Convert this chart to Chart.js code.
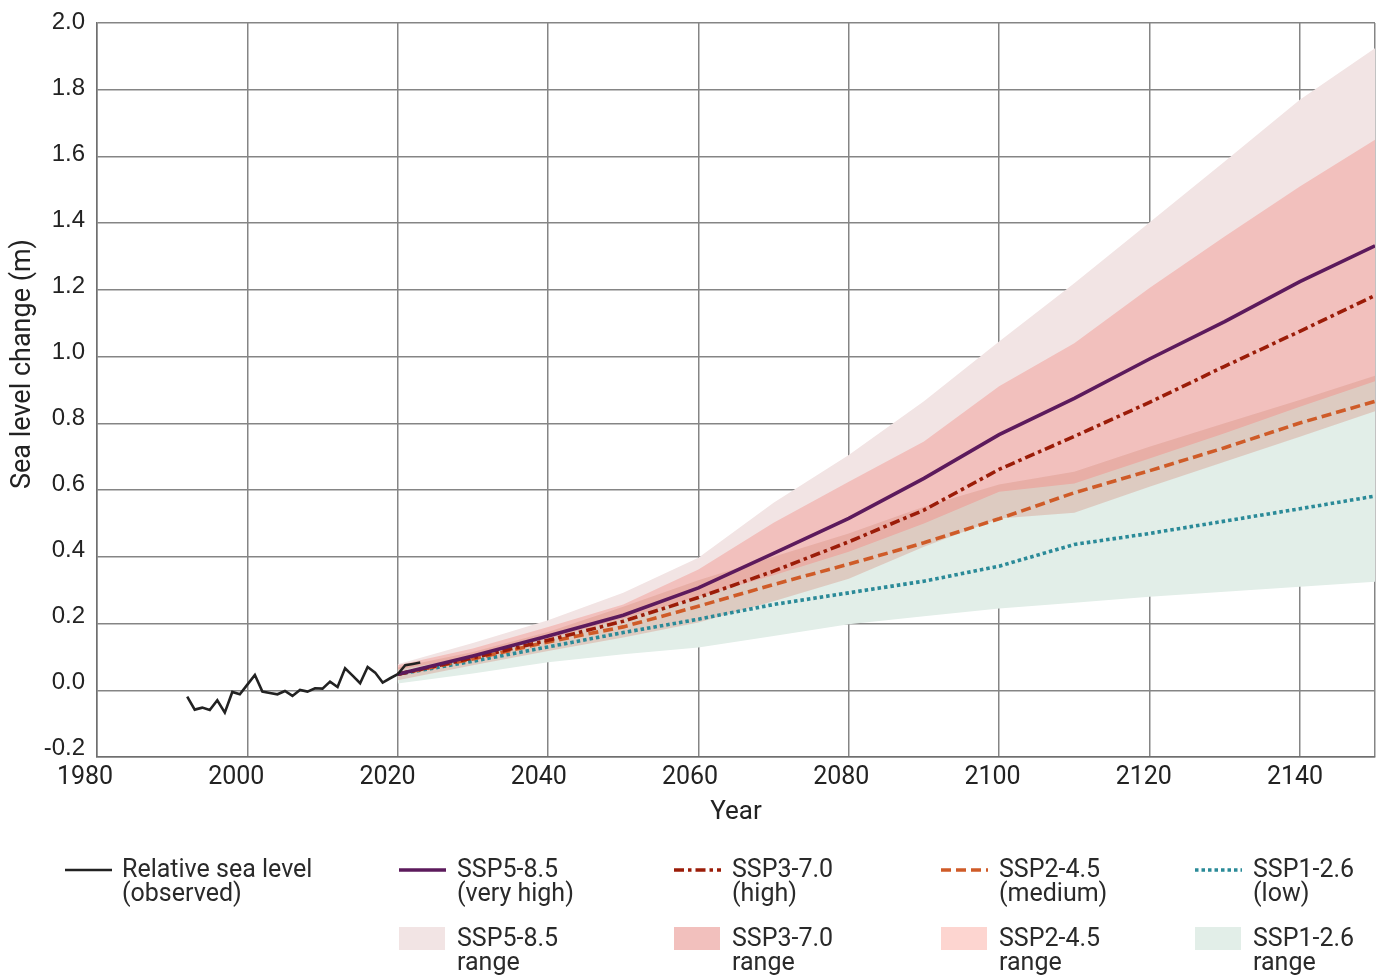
<!DOCTYPE html>
<html>
<head>
<meta charset="utf-8">
<title>Sea level change projections</title>
<script src="https://cdn.jsdelivr.net/npm/chart.js@4.4.1/dist/chart.umd.min.js"></script>
<style>
  html, body { margin: 0; padding: 0; background: #fff; }
  #wrap { position: relative; width: 1384px; height: 975px; overflow: hidden; }
  #chart { position: absolute; left: 0; top: 0; }
  .lg-text {
    position: absolute;
    font-family: Roboto, "Liberation Sans", sans-serif;
    font-size: 25px;
    line-height: 24px;
    color: #2a2a2a;
    white-space: nowrap;
  }
  .lg-sw { position: absolute; }
</style>
</head>
<body>
<div id="wrap">
  <canvas id="chart" width="1384" height="975"></canvas>
  <div id="legend"></div>
</div>
<script>
// ---- Observed relative sea level (m) ----
const obsYears = [1992, 1993, 1994, 1995, 1996, 1997, 1998, 1999, 2000, 2001,
                  2002, 2003, 2004, 2005, 2006, 2007, 2008, 2009, 2010, 2011,
                  2012, 2013, 2014, 2015, 2016, 2017, 2018, 2019, 2020, 2021,
                  2022, 2023];
const obsLevel = [-0.019, -0.058, -0.052, -0.059, -0.030, -0.067, -0.005, -0.012, 0.017, 0.046,
                  -0.004, -0.008, -0.012, -0.002, -0.017, 0.001, -0.004, 0.006, 0.005, 0.026,
                  0.010, 0.066, 0.044, 0.021, 0.070, 0.053, 0.023, 0.036, 0.048, 0.075,
                  0.079, 0.083];

// ---- Projections (m), one value per decade ----
const projYears = [2020, 2030, 2040, 2050, 2060, 2070, 2080, 2090, 2100, 2110, 2120, 2130, 2140, 2150];

const ssp585Mid  = [0.048, 0.103, 0.163, 0.225, 0.307, 0.410, 0.515, 0.635, 0.766, 0.875, 0.993, 1.105, 1.225, 1.332];
const ssp370Mid  = [0.048, 0.097, 0.150, 0.207, 0.278, 0.357, 0.445, 0.540, 0.662, 0.761, 0.863, 0.971, 1.076, 1.183];
const ssp245Mid  = [0.048, 0.094, 0.145, 0.190, 0.252, 0.317, 0.378, 0.442, 0.514, 0.592, 0.658, 0.727, 0.801, 0.866];
const ssp126Mid  = [0.048, 0.087, 0.130, 0.173, 0.213, 0.257, 0.292, 0.327, 0.372, 0.437, 0.470, 0.507, 0.544, 0.582];

const ssp585High = [0.078, 0.142, 0.210, 0.292, 0.397, 0.562, 0.705, 0.866, 1.045, 1.220, 1.402, 1.585, 1.770, 1.924];
const ssp585Low  = [0.025, 0.060, 0.100, 0.145, 0.190, 0.250, 0.310, 0.380, 0.450, 0.490, 0.550, 0.630, 0.750, 0.880];
const ssp370High = [0.075, 0.125, 0.190, 0.257, 0.362, 0.502, 0.625, 0.746, 0.911, 1.040, 1.206, 1.360, 1.510, 1.650];
const ssp370Low  = [0.028, 0.065, 0.105, 0.150, 0.200, 0.260, 0.320, 0.390, 0.460, 0.500, 0.560, 0.640, 0.760, 0.900];
const ssp245High = [0.068, 0.115, 0.175, 0.250, 0.330, 0.400, 0.470, 0.550, 0.617, 0.655, 0.730, 0.800, 0.870, 0.943];
const ssp245Low  = [0.030, 0.075, 0.118, 0.158, 0.203, 0.267, 0.334, 0.430, 0.515, 0.532, 0.610, 0.685, 0.760, 0.836];
const ssp126High = [0.062, 0.100, 0.155, 0.215, 0.280, 0.345, 0.415, 0.500, 0.595, 0.620, 0.695, 0.770, 0.850, 0.926];
const ssp126Low  = [0.020, 0.050, 0.084, 0.108, 0.128, 0.163, 0.198, 0.222, 0.245, 0.262, 0.280, 0.295, 0.310, 0.325];

// ---- Axis ticks and labels ----
const xGridYears  = [1980, 2000, 2020, 2040, 2060, 2080, 2100, 2120, 2140, 2150];
const xTickYears  = [1980, 2000, 2020, 2040, 2060, 2080, 2100, 2120, 2140];
const yTickValues = [-0.2, 0.0, 0.2, 0.4, 0.6, 0.8, 1.0, 1.2, 1.4, 1.6, 1.8, 2.0];

// ---- Series names ----
const observedName = 'Relative sea level';
const observedNote = '(observed)';
const scenarioNames = ['SSP5-8.5', 'SSP3-7.0', 'SSP2-4.5', 'SSP1-2.6'];
const scenarioNotes = ['(very high)', '(high)', '(medium)', '(low)'];
const rangeNote = 'range';

// Styles for each scenario (line colour, dash, band colour, legend swatch colour)
const lineColors  = ['#5c1a5c', '#9b1c08', '#cf5b28', '#2a8a98'];
const lineDashes  = [[], [10, 4, 3.5, 4], [10, 5], [3.5, 3]];
const bandFills   = ['#f2e4e4', '#f2c0bd', 'rgba(214,140,126,0.36)', '#e2eee8'];
const bandSwatch  = ['#f2e4e4', '#f2c0bd', '#fdd5d0', '#e2eee8'];

const pts = (xs, ys) => xs.map((x, i) => ({ x: x, y: ys[i] }));

function bandPair(low, high, fillColor, order) {
  return [
    { label: '', data: pts(projYears, low), borderColor: 'transparent', borderWidth: 0,
      pointRadius: 0, fill: false, order: order },
    { label: '', data: pts(projYears, high), borderColor: 'transparent', borderWidth: 0,
      pointRadius: 0, fill: '-1', backgroundColor: fillColor, order: order }
  ];
}

const mids = [ssp585Mid, ssp370Mid, ssp245Mid, ssp126Mid];

const datasets = [
  { label: observedName + ' ' + observedNote, data: pts(obsYears, obsLevel),
    borderColor: '#222222', borderWidth: 2.6, pointRadius: 0, fill: false, order: 0 }
];
mids.forEach((m, i) => {
  datasets.push({
    label: scenarioNames[i] + ' ' + scenarioNotes[i], data: pts(projYears, m),
    borderColor: lineColors[i], borderWidth: 3.6, borderDash: lineDashes[i],
    pointRadius: 0, fill: false, order: 0
  });
});
// band layering: SSP5 at the back, then SSP3, SSP1 and the translucent SSP2 on top
datasets.push(...bandPair(ssp245Low, ssp245High, bandFills[2], 1));
datasets.push(...bandPair(ssp126Low, ssp126High, bandFills[3], 2));
datasets.push(...bandPair(ssp370Low, ssp370High, bandFills[1], 3));
datasets.push(...bandPair(ssp585Low, ssp585High, bandFills[0], 4));

// Rotated y-axis title, placed a little above the middle of the plot
const yTitlePlugin = {
  id: 'yTitle',
  afterDraw(chart, args, opts) {
    const { ctx, chartArea } = chart;
    ctx.save();
    ctx.font = opts.font;
    ctx.fillStyle = opts.color;
    ctx.translate(opts.x, (chartArea.top + chartArea.bottom) / 2 + opts.shift);
    ctx.rotate(-Math.PI / 2);
    ctx.textAlign = 'center';
    ctx.textBaseline = 'middle';
    ctx.fillText(opts.text, 0, 0);
    ctx.restore();
  }
};

const gridColor = '#858585';

new Chart(document.getElementById('chart'), {
  type: 'line',
  data: { datasets: datasets },
  plugins: [yTitlePlugin],
  options: {
    responsive: false,
    animation: false,
    devicePixelRatio: 1,
    layout: { padding: { top: 23, right: 9, bottom: 138, left: 0 } },
    elements: { point: { radius: 0 }, line: { tension: 0 } },
    plugins: {
      legend: { display: false },
      tooltip: { enabled: false },
      yTitle: { text: 'Sea level change (m)', x: 23, shift: -26, font: '27px Roboto', color: '#222' }
    },
    scales: {
      x: {
        type: 'linear', position: 'bottom', weight: 0, min: 1980, max: 2150,
        afterBuildTicks: s => { s.ticks = xGridYears.map(v => ({ value: v })); },
        ticks: { display: false },
        grid: { color: gridColor, lineWidth: 1.5, drawTicks: false },
        border: { color: '#6f6f6f', width: 1.5 }
      },
      xLabels: {
        type: 'linear', position: 'bottom', weight: 1, min: 1981.587, max: 2150.579,
        afterBuildTicks: s => { s.ticks = xTickYears.map(v => ({ value: v })); },
        afterFit: s => { s.height = 80; s.paddingLeft = 0; s.paddingRight = 0; },
        ticks: {
          autoSkip: false, maxRotation: 0, minRotation: 0, padding: 6, color: '#222',
          font: { family: 'Roboto', size: 25 },
          callback: v => String(v)
        },
        grid: { display: false, drawTicks: false },
        border: { display: false },
        title: {
          display: true, text: 'Year', color: '#222',
          font: { family: 'Roboto', size: 26 },
          padding: { top: 0, bottom: 9 }
        }
      },
      y: {
        type: 'linear', position: 'left', weight: 0, min: -0.2, max: 2.0,
        afterBuildTicks: s => { s.ticks = yTickValues.map(v => ({ value: v })); },
        ticks: { display: false },
        grid: { color: gridColor, lineWidth: 1.5, drawTicks: false },
        border: { color: '#6f6f6f', width: 1.5 }
      },
      yLabels: {
        type: 'linear', position: 'left', weight: 1, min: -0.2273, max: 1.997,
        afterBuildTicks: s => { s.ticks = yTickValues.map(v => ({ value: v })); },
        afterFit: s => { s.width = 97; s.paddingTop = 0; s.paddingBottom = 0; },
        ticks: {
          autoSkip: false, padding: 12, color: '#222',
          font: { family: 'Liberation Sans', size: 24 },
          callback: v => v.toFixed(1)
        },
        grid: { display: false, drawTicks: false },
        border: { display: false }
      }
    }
  }
});

// ---- Legend: two rows, five columns ----
const legendCols = [65, 399, 674, 941, 1195];
const textShift = 58;
const legendEl = document.getElementById('legend');

function addText(x, y, lines) {
  const d = document.createElement('div');
  d.className = 'lg-text';
  d.style.left = x + 'px';
  d.style.top = y + 'px';
  d.innerHTML = lines.join('<br>');
  legendEl.appendChild(d);
}
function addLineSwatch(x, yc, color, dash, width) {
  const svgNS = 'http://www.w3.org/2000/svg';
  const svg = document.createElementNS(svgNS, 'svg');
  svg.setAttribute('width', '48');
  svg.setAttribute('height', '8');
  svg.setAttribute('class', 'lg-sw');
  svg.style.left = x + 'px';
  svg.style.top = (yc - 4) + 'px';
  const ln = document.createElementNS(svgNS, 'line');
  ln.setAttribute('x1', '0'); ln.setAttribute('y1', '4');
  ln.setAttribute('x2', '47'); ln.setAttribute('y2', '4');
  ln.setAttribute('stroke', color);
  ln.setAttribute('stroke-width', String(width));
  if (dash.length) ln.setAttribute('stroke-dasharray', dash.join(' '));
  svg.appendChild(ln);
  legendEl.appendChild(svg);
}
function addBoxSwatch(x, y, color) {
  const d = document.createElement('div');
  d.className = 'lg-sw';
  d.style.left = x + 'px';
  d.style.top = y + 'px';
  d.style.width = '46px';
  d.style.height = '23px';
  d.style.background = color;
  legendEl.appendChild(d);
}

addLineSwatch(legendCols[0], 870, '#222222', [], 2.6);
addText(legendCols[0] + textShift - 1, 857, [observedName, observedNote]);
scenarioNames.forEach((name, i) => {
  const cx = legendCols[i + 1];
  addLineSwatch(cx, 870, lineColors[i], lineDashes[i], 3.6);
  addText(cx + textShift, 857, [name, scenarioNotes[i]]);
  addBoxSwatch(cx, 927, bandSwatch[i]);
  addText(cx + textShift, 926, [name, rangeNote]);
});
</script>
</body>
</html>
